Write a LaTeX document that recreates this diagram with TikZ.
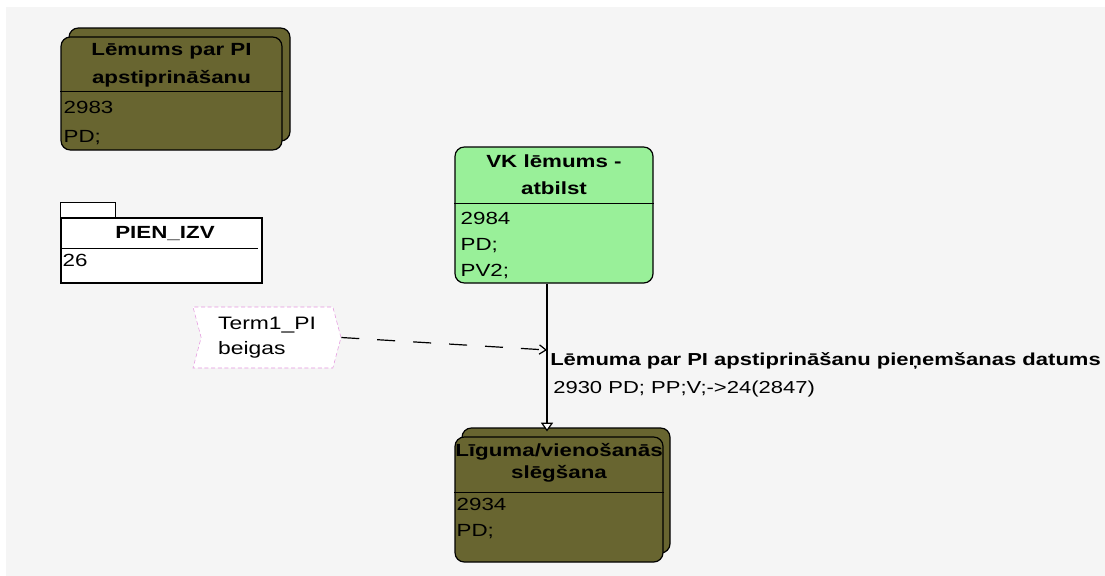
\documentclass[tikz,border=0pt]{standalone}
\usepackage{fontspec}
\setmainfont{Liberation Sans}[FakeStretch=1.27]
\usetikzlibrary{arrows.meta,shapes.symbols}
\definecolor{boxolive}{RGB}{104,101,48}
\definecolor{boxgreen}{RGB}{153,240,153}
\definecolor{termpink}{RGB}{228,150,222}
\definecolor{canvasgray}{RGB}{245,245,245}

\begin{document}
\begin{tikzpicture}[x=0.75pt,y=-0.75pt,
    stackbox/.style={draw=black,line width=0.9pt,fill=boxolive,rounded corners=7pt,inner sep=0pt},
    greenbox/.style={stackbox,fill=boxgreen},
    pkgbox/.style={draw=black,line width=0.9pt,fill=white,inner sep=0pt},
    boxtitle/.style={font=\bfseries\fontsize{13.2}{20.5}\selectfont,align=center,inner sep=0pt,anchor=north},
    boxrows/.style={font=\fontsize{13.2}{19.5}\selectfont,align=left,inner sep=0pt,anchor=north west},
    termshape/.style={signal,signal from=west,signal to=east,signal pointer angle=150,
        draw=termpink,dash pattern=on 3pt off 2pt,fill=white,minimum width=111pt,minimum height=45.75pt,
        inner sep=0pt,align=left,font=\fontsize{13.5}{18.75}\selectfont},
    flowlabel/.style={font=\fontsize{13}{21}\selectfont,align=left,inner sep=0pt,anchor=north west}]
    \useasboundingbox (0,0) rectangle (1105,575);
    \fill[white] (0,0) rectangle (1105,575);
    \fill[canvasgray] (6,7) rectangle (1110,580);

    \node[stackbox,minimum width=165.75pt,minimum height=84.75pt] (lemumsbg) at (179.5,84.5) {};
    \node[stackbox,minimum width=165.75pt,minimum height=84.75pt] (lemums) at (171.5,93.5) {};
    \draw[line width=0.9pt] ([yshift=-41.25pt]lemums.north west) -- ([yshift=-41.25pt]lemums.north east);
    \node[boxtitle] (lemumstitle) at ([yshift=-5.25pt]lemums.north) {Lēmums par PI\\apstiprināšanu};
    \node[boxrows,font=\fontsize{13.2}{21.75}\selectfont] (lemumsrows) at ([xshift=2.25pt,yshift=-48.75pt]lemums.north west) {2983\\PD;};

    \node[pkgbox,minimum width=150.75pt,minimum height=48.75pt] (pien) at (161.5,250.5) {};
    \draw[line width=0.9pt,fill=white] (pien.north west) rectangle ++(55,-15);
    \draw[line width=0.9pt] ([yshift=-23.25pt]pien.north west) -- ([xshift=-3.75pt,yshift=-23.25pt]pien.north east);
    \node[boxtitle] (pientitle) at ([xshift=2.6pt,yshift=-6.75pt]pien.north) {PIEN\_IZV};
    \node[boxrows] (pienrows) at ([xshift=1.5pt,yshift=-27.75pt]pien.north west) {26};

    \node[termshape] (term) at (267,337.5) {Term1\_PI\\beigas};

    \node[greenbox,minimum width=148.5pt,minimum height=102pt] (vk) at (554,215) {};
    \draw[line width=0.9pt] ([yshift=-42.75pt]vk.north west) -- ([yshift=-42.75pt]vk.north east);
    \node[boxtitle] (vktitle) at ([yshift=-6pt]vk.north) {VK lēmums -\\atbilst};
    \node[boxrows] (vkrows) at ([xshift=4.5pt,yshift=-49.5pt]vk.north west) {2984\\PD;\\PV2;};

    \node[stackbox,minimum width=156pt,minimum height=93.75pt] (ligumsbg) at (566,490.5) {};
    \node[stackbox,minimum width=156pt,minimum height=93.75pt] (ligums) at (559,499.5) {};
    \draw[line width=0.9pt] ([yshift=-42pt]ligums.north west) -- ([yshift=-42pt]ligums.north east);
    \node[boxtitle,font=\bfseries\fontsize{13.2}{16}\selectfont] (ligumstitle) at ([yshift=-5.25pt]ligums.north) {Līguma/vienošanās\\slēgšana};
    \node[boxrows] (ligumsrows) at ([xshift=1.5pt,yshift=-46.5pt]ligums.north west) {2934\\PD;};

    \coordinate (hit) at (547,350);
    \draw[line width=0.9pt,dash pattern=on 13.5pt off 13.5pt,-{Straight Barb[length=5pt,width=7pt]}] (term.east) -- (hit);
    \draw[line width=0.9pt,-{Triangle[open,fill=white,length=6.5pt,width=9pt]}] ([xshift=-5.25pt]vk.south) -- ([xshift=-9pt,yshift=3.75pt]ligums.north);
    \node[flowlabel] (datums) at (550,352) {{\bfseries Lēmuma par PI apstiprināšanu pieņemšanas datums}\\\hspace*{2.25pt}2930 PD; PP;V;->24(2847)};
\end{tikzpicture}
\end{document}
